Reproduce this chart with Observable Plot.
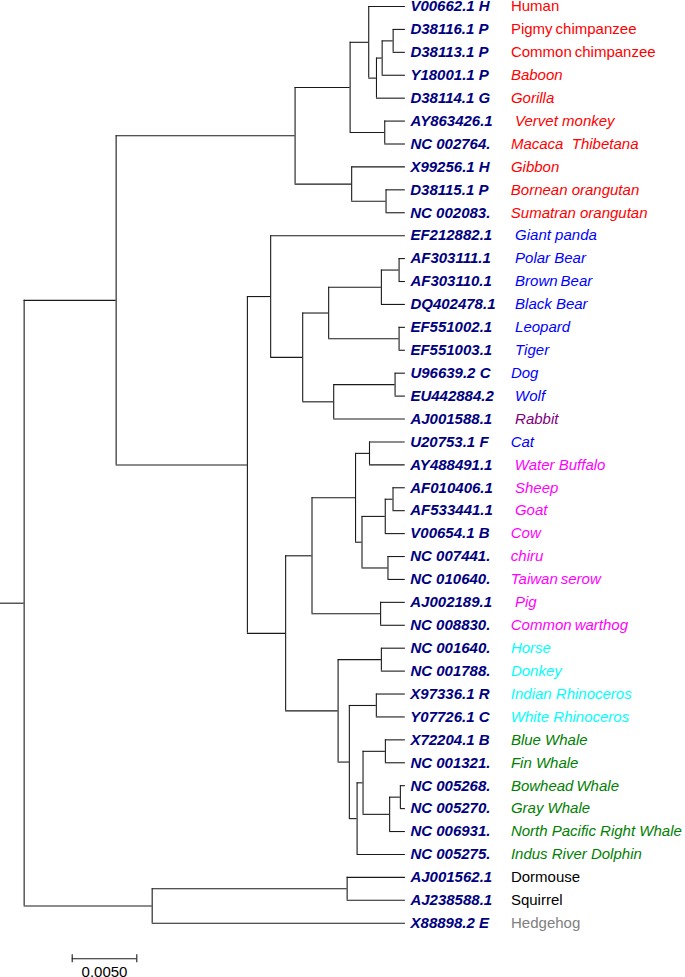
<!DOCTYPE html>
<html><head><meta charset="utf-8">
<script src="https://cdn.jsdelivr.net/npm/d3@7"></script>
<script src="https://cdn.jsdelivr.net/npm/@observablehq/plot@0.6"></script>
<style>html,body{margin:0;padding:0;background:#fff;} svg{display:block}</style>
</head><body><div id="chart"></div>
<script>
// ---- DATA ----
// Tree nodes in pre-order; leaves are identified by accession.
const nodeIds = [
  "root","A","P","C1","H1","V00662.1 H","G","CB","CH","D38116.1 P","D38113.1 P","Y18001.1 P","D38114.1 G",
  "VM","AY863426.1","NC 002764.","GB","X99256.1 H","OR","D38115.1 P","NC 002083.",
  "B","PD","EF212882.1","N1","BC","BR","PB","AF303111.1","AF303110.1","DQ402478.1","LT","EF551002.1","EF551003.1",
  "CR","DW","U96639.2 C","EU442884.2","AJ001588.1",
  "N2","N3","CBV","CBF","U20753.1 F","AY488491.1","BOV","COW","SG","AF010406.1","AF533441.1","V00654.1 B",
  "CS","NC 007441.","NC 010640.","PW","AJ002189.1","NC 008830.",
  "N4","HD","NC 001640.","NC 001788.","N5","RH","X97336.1 R","Y07726.1 C","N6","WH","BF","X72204.1 B","NC 001321.",
  "N7","BG","NC 005268.","NC 005270.","NC 006931.","NC 005275.",
  "BOT","ROD","AJ001562.1","AJ238588.1","X88898.2 E"
];
const parentIds = [
  "","root","A","P","C1","H1","H1","G","CB","CH","CH","CB","G",
  "C1","VM","VM","P","GB","GB","OR","OR",
  "A","B","PD","PD","N1","BC","BR","PB","PB","BR","BC","LT","LT",
  "N1","CR","DW","DW","CR",
  "B","N2","N3","CBV","CBF","CBF","CBV","BOV","COW","SG","SG","COW",
  "BOV","CS","CS","N3","PW","PW",
  "N2","N4","HD","HD","N4","N5","RH","RH","N5","N6","WH","BF","BF",
  "WH","N7","BG","BG","N7","N6",
  "root","BOT","ROD","ROD","BOT"
];
const branchLengths = [
  0.00183,0.00712,0.01385,0.00426,0.00144,0.00284,0.00060,0.00044,0.00085,0.00095,0.00095,0.00180,0.00224,
  0.00268,0.00160,0.00160,0.00438,0.00416,0.00266,0.00149,0.00149,
  0.01016,0.00180,0.01043,0.00248,0.00201,0.00408,0.00137,0.00049,0.00049,0.00186,0.00545,0.00049,0.00049,
  0.00240,0.00475,0.00080,0.00080,0.00555,
  0.00296,0.00204,0.00337,0.00108,0.00276,0.00276,0.00050,0.00180,0.00060,0.00095,0.00095,0.00155,
  0.00201,0.00134,0.00134,0.00531,0.00191,0.00191,
  0.00406,0.00335,0.00186,0.00186,0.00087,0.00209,0.00224,0.00224,0.00060,0.00046,0.00173,0.00155,0.00155,
  0.00206,0.00083,0.00039,0.00039,0.00122,0.00374,
  0.00991,0.01509,0.00451,0.00451,0.01961
];
// Leaves, top to bottom
const accessions = [
  "V00662.1 H","D38116.1 P","D38113.1 P","Y18001.1 P","D38114.1 G","AY863426.1","NC 002764.","X99256.1 H","D38115.1 P","NC 002083.",
  "EF212882.1","AF303111.1","AF303110.1","DQ402478.1","EF551002.1","EF551003.1","U96639.2 C","EU442884.2","AJ001588.1",
  "U20753.1 F","AY488491.1","AF010406.1","AF533441.1","V00654.1 B","NC 007441.","NC 010640.","AJ002189.1","NC 008830.",
  "NC 001640.","NC 001788.","X97336.1 R","Y07726.1 C",
  "X72204.1 B","NC 001321.","NC 005268.","NC 005270.","NC 006931.","NC 005275.",
  "AJ001562.1","AJ238588.1","X88898.2 E"
];
const commonNames = [
  "Human","Pigmy\u2009chimpanzee","Common\u2009chimpanzee","Baboon","Gorilla","\u00a0Vervet monkey","Macaca\u00a0 Thibetana","Gibbon","Bornean orangutan","Sumatran orangutan",
  "\u00a0Giant panda","\u00a0Polar Bear","\u00a0Brown\u2009Bear","\u00a0Black Bear","\u00a0Leopard","\u00a0Tiger","Dog","\u00a0Wolf","\u00a0Rabbit",
  "Cat","\u00a0Water Buffalo","\u00a0Sheep","\u00a0Goat","Cow","chiru","Taiwan\u2009serow","\u00a0Pig","Common\u2009warthog",
  "Horse","Donkey","Indian Rhinoceros","White Rhinoceros",
  "Blue Whale","Fin Whale","Bowhead\u2009Whale","Gray Whale","North Pacific Right Whale","Indus River Dolphin",
  "Dormouse","Squirrel","Hedgehog"
];
const groups = [
  "Primates","Primates","Primates","Primates","Primates","Primates","Primates","Primates","Primates","Primates",
  "Carnivora","Carnivora","Carnivora","Carnivora","Carnivora","Carnivora","Carnivora","Carnivora","Lagomorpha",
  "Carnivora","Artiodactyla","Artiodactyla","Artiodactyla","Artiodactyla","Artiodactyla","Artiodactyla","Artiodactyla","Artiodactyla",
  "Perissodactyla","Perissodactyla","Perissodactyla","Perissodactyla",
  "Cetacea","Cetacea","Cetacea","Cetacea","Cetacea","Cetacea",
  "Rodentia","Rodentia","Eulipotyphla"
];
const groupDomain = ["Primates","Carnivora","Lagomorpha","Artiodactyla","Perissodactyla","Cetacea","Rodentia","Eulipotyphla"];
const scaleBarLength = 0.005;
const scaleBarLabel = "0.0050";

// ---- LAYOUT ----
const groupColors = ["#ff0000","#0000ff","#800080","#ff00ff","#00ffff","#008000","#000000","#808080"];
const uprightSet = new Set(["V00662.1 H","D38116.1 P","D38113.1 P","AJ001562.1","AJ238588.1","X88898.2 E"]);

const table = nodeIds.map((id, i) => ({id, parent: parentIds[i] || null, len: branchLengths[i]}));
const root = d3.stratify().id(d => d.id).parentId(d => d.parent)(table);
root.each(n => { n.dx = (n.parent ? n.parent.dx : 0) + n.data.len; });
root.leaves().forEach(l => { l.yi = accessions.indexOf(l.id); });
root.eachAfter(n => {
  if (n.children) n.yi = (n.children[0].yi + n.children[n.children.length - 1].yi) / 2;
});

const edges = root.descendants().map(n => ({x1: n.parent ? n.parent.dx : 0, x2: n.dx, y: n.yi}));
const verticals = root.descendants().filter(n => n.children).map(n => ({
  x: n.dx, y1: n.children[0].yi, y2: n.children[n.children.length - 1].yi
}));
const leafRows = accessions.map((acc, i) => {
  const node = root.find(n => n.id === acc);
  return {x: node.dx, y: node.yi, acc, name: commonNames[i], group: groups[i]};
});

const barX0 = 0.00555;
const barY = 41.55, barTickTop = 41.38, barTickBottom = 41.73, barTextY = 42.12;
const font = "'Liberation Sans', Arial, Helvetica, sans-serif";

const chart = Plot.plot({
  width: 685, height: 977, margin: 0,
  x: {domain: [0, 0.05], range: [0, 646], axis: null},
  y: {domain: [0, 40], range: [6, 922.7], axis: null},
  color: {domain: groupDomain, range: groupColors},
  style: {fontFamily: font, background: "white"},
  marks: [
    Plot.ruleY(edges, {y: "y", x1: "x1", x2: "x2", stroke: "#1a1a1a", strokeWidth: 1.1}),
    Plot.ruleX(verticals, {x: "x", y1: "y1", y2: "y2", stroke: "#1a1a1a", strokeWidth: 1.1}),
    Plot.text(leafRows, {x: "x", y: "y", text: "acc", dx: 5, textAnchor: "start",
      fontWeight: "bold", fontStyle: "italic", fill: "#000080", fontSize: 15}),
    Plot.text(leafRows, {filter: d => !uprightSet.has(d.acc), x: "x", y: "y", text: "name", dx: 105.5,
      textAnchor: "start", fontStyle: "italic", fill: "group", fontSize: 15}),
    Plot.text(leafRows, {filter: d => uprightSet.has(d.acc), x: "x", y: "y", text: "name", dx: 105.5,
      textAnchor: "start", fill: "group", fontSize: 15}),
    Plot.ruleY([{y: barY, x1: barX0, x2: barX0 + scaleBarLength}], {y: "y", x1: "x1", x2: "x2", stroke: "#1a1a1a", strokeWidth: 1.1}),
    Plot.ruleX([barX0, barX0 + scaleBarLength], {x: d => d, y1: barTickTop, y2: barTickBottom, stroke: "#1a1a1a", strokeWidth: 1.1}),
    Plot.text([scaleBarLabel], {x: barX0 + scaleBarLength / 2, y: barTextY, text: d => d, fill: "black", fontSize: 15})
  ]
});
document.getElementById("chart").appendChild(chart);
</script>
</body></html>
